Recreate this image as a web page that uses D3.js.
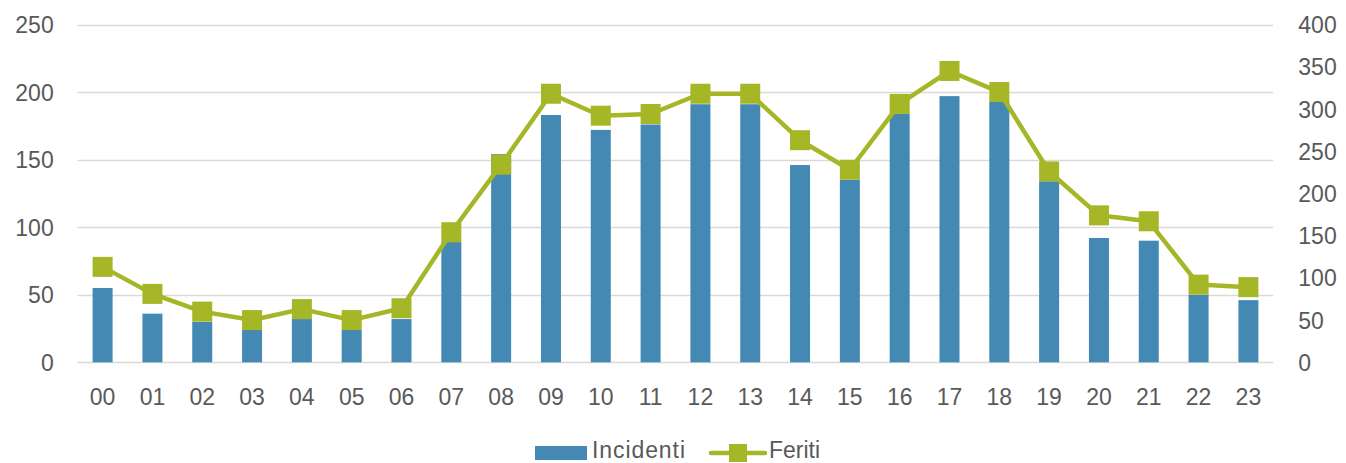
<!DOCTYPE html>
<html><head><meta charset="utf-8">
<script src="https://cdn.jsdelivr.net/npm/d3@7"></script>
<style>
html,body{margin:0;padding:0;background:#fff;}
svg{display:block;}
text{font-family:"Liberation Sans",Arial,sans-serif;fill:#595959;}
</style></head>
<body>
<svg id="chart" width="1346" height="463"></svg>
<script>
const categories = ["00","01","02","03","04","05","06","07","08","09","10","11","12","13","14","15","16","17","18","19","20","21","22","23"];
const incidenti = [55,36,30,24,32,24,32,89,154,183,172,176,191,191,146,135,184,197,193,134,92,90,50,46];
const feriti = [113,81,60,50,63,50,64,154,234,318,292,294,318,318,263,228,306,345,320,226,174,167,92,89];
const leftTicks = [0,50,100,150,200,250];
const rightTicks = [0,50,100,150,200,250,300,350,400];
const seriesNames = ["Incidenti","Feriti"];

(function(){
const barColor = "#4389B4";
const lineColor = "#A5B627";

const svg = d3.select("#chart");
const pL = 77.7, pR = 1273.3, pT = 24.5, pB = 362.3;

const xc = d3.scaleBand().domain(categories).range([pL, pR]);
const yL = d3.scaleLinear().domain([0, 250]).range([pB, pT]);
const yR = d3.scaleLinear().domain([0, 400]).range([pB, pT]);

// gridlines
svg.append("g").selectAll("line").data(leftTicks).join("line")
  .attr("x1", pL).attr("x2", pR)
  .attr("y1", d => Math.round(yL(d)) + 0.5).attr("y2", d => Math.round(yL(d)) + 0.5)
  .attr("stroke", "#D9D9D9").attr("stroke-width", 1.3);

const ff = '"Liberation Sans",Arial,sans-serif';
// left axis
const axL = svg.append("g").attr("transform", `translate(${pL},0)`)
  .call(d3.axisLeft(yL).tickValues(leftTicks).tickSize(0).tickPadding(24));
axL.select(".domain").remove();
axL.selectAll("text").attr("font-size", 23).attr("fill", "#595959").attr("dy", "0.35em").style("font-family", ff);

// right axis
const axR = svg.append("g").attr("transform", `translate(${pR},0)`)
  .call(d3.axisRight(yR).tickValues(rightTicks).tickSize(0).tickPadding(25));
axR.select(".domain").remove();
axR.selectAll("text").attr("font-size", 23).attr("fill", "#595959").attr("dy", "0.35em").style("font-family", ff);

// x axis
const axX = svg.append("g").attr("transform", `translate(0,${pB})`)
  .call(d3.axisBottom(xc).tickSize(0).tickPadding(26));
axX.select(".domain").remove();
axX.selectAll("text").attr("font-size", 23).attr("fill", "#595959").style("font-family", ff);

// bars
const bw = 20;
svg.append("g").selectAll("rect").data(categories).join("rect")
  .attr("x", d => xc(d) + xc.bandwidth()/2 - bw/2)
  .attr("width", bw)
  .attr("y", (d,i) => yL(incidenti[i]))
  .attr("height", (d,i) => pB - yL(incidenti[i]))
  .attr("fill", barColor);

// line
const line = d3.line().x((d,i) => xc(categories[i]) + xc.bandwidth()/2).y(d => yR(d));
svg.append("path").datum(feriti).attr("d", line)
  .attr("fill", "none").attr("stroke", lineColor).attr("stroke-width", 4.5).attr("stroke-linejoin", "round");

const ms = 20;
svg.append("g").selectAll("rect").data(feriti).join("rect")
  .attr("x", (d,i) => xc(categories[i]) + xc.bandwidth()/2 - ms/2)
  .attr("y", d => yR(d) - ms/2)
  .attr("width", ms).attr("height", ms)
  .attr("fill", lineColor);

// legend
const lg = svg.append("g");
lg.append("rect").attr("x", 535).attr("y", 446).attr("width", 52).attr("height", 14).attr("fill", barColor);
lg.append("text").attr("x", 592).attr("y", 458).attr("font-size", 23).attr("textLength", 93).text(seriesNames[0]);
lg.append("line").attr("x1", 711).attr("x2", 765).attr("y1", 453).attr("y2", 453)
  .attr("stroke", lineColor).attr("stroke-width", 4.5).attr("stroke-linecap", "round");
lg.append("rect").attr("x", 729).attr("y", 444).attr("width", 18).attr("height", 18).attr("fill", lineColor);
lg.append("text").attr("x", 769).attr("y", 458).attr("font-size", 23).text(seriesNames[1]);
})();
</script>
</body></html>
